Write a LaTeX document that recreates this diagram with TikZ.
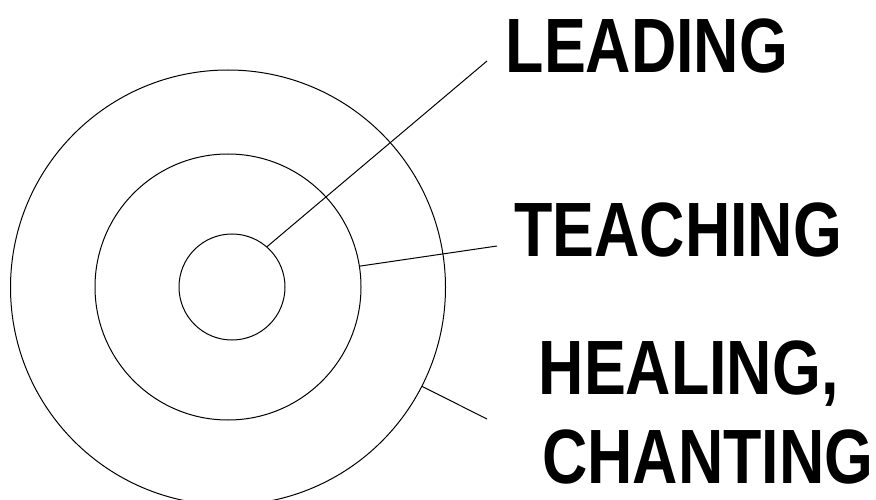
\documentclass[tikz,border=0pt]{standalone}
\usepackage{fontspec}
\setmainfont{Liberation Sans}
\begin{document}
\begin{tikzpicture}[x=1pt,y=-1pt,
  ring/.style={draw=black,circle,line width=1pt,inner sep=0pt},
  conn/.style={draw=black,line width=1pt},
  label/.style={anchor=base west,inner sep=0pt,font=\fontsize{77}{80}\selectfont\bfseries}]
\useasboundingbox (0,0) rectangle (876,500);
\node[ring,minimum size=435pt] (outer) at (228,287.5) {};
\node[ring,minimum size=266pt] (middle) at (228,287) {};
\node[ring,minimum size=106pt] (inner) at (232,287) {};
\node[label] (lead) at (505.5,73) {\scalebox{0.815}[1]{LEADING}};
\node[label] (teach) at (514,256) {\scalebox{0.815}[1]{TEACHING}};
\node[label] (heal) at (538.5,394) {\scalebox{0.815}[1]{HEALING,}};
\node[label] (chant) at (542,483) {\scalebox{0.815}[1]{CHANTING}};
\coordinate (leadend) at (487,61);
\coordinate (teachend) at (497,246);
\coordinate (healend) at (487,419);
\draw[conn] (inner.49.6) -- (leadend);
\draw[conn] (middle.9.7) -- (teachend);
\draw[conn] (outer.-27.5) -- (healend);
\end{tikzpicture}
\end{document}
